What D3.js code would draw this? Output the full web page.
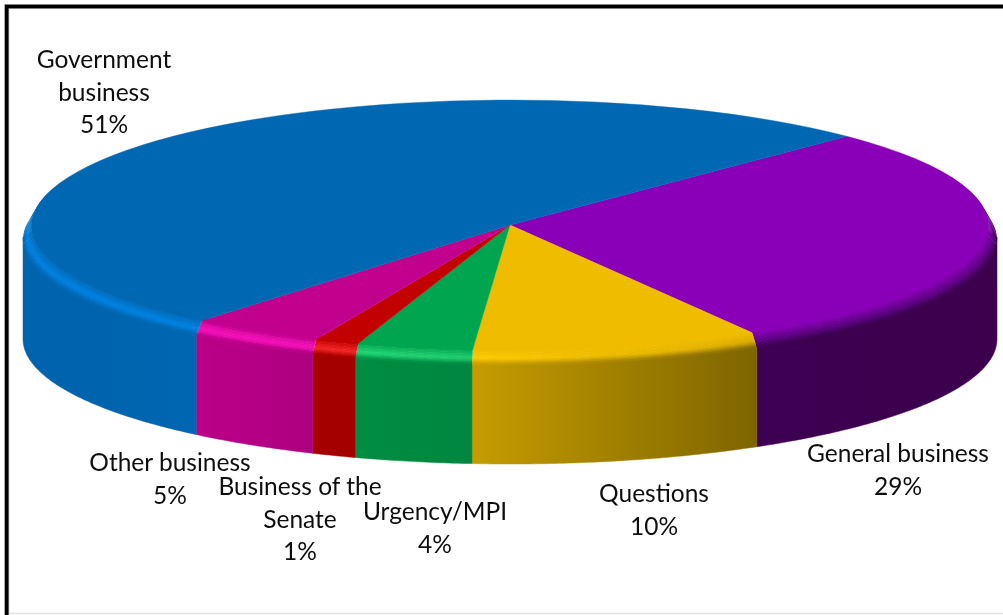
<!DOCTYPE html>
<html>
<head>
<meta charset="utf-8">
<title>Business of the House</title>
<script src="https://cdnjs.cloudflare.com/ajax/libs/d3/7.8.5/d3.min.js"></script>
<style>
    html, body { margin: 0; padding: 0; background: #fff; overflow: hidden; }
    svg { display: block; }
    .label { font-family: Lato, "Open Sans", sans-serif; font-size: 24.5px; fill: #111; text-anchor: middle; }
</style>
</head>
<body>
<svg id="chart" width="1003" height="615"></svg>
<script>
// slices clockwise, starting at the government/general split
const categories = ['General business', 'Questions', 'Urgency/MPI', 'Business of the Senate', 'Other business', 'Government business'];
// share of the circle
const shares = [29.1, 9.7, 3.9, 1.5, 4.5, 51.3];
// what the labels print
const printedPct = ['29%', '10%', '4%', '1%', '5%', '51%'];
const labelLines = [
    ['General business'],
    ['Questions'],
    ['Urgency/MPI'],
    ['Business of the', 'Senate'],
    ['Other business'],
    ['Government', 'business']
];

// colours: top face, rim highlight (left, right end), side wall (left, right end)
const sliceStyles = [
    { top: '#8a00b8', hi: ['#5f0085', '#5f0085'], side: ['#3e0052', '#3c004e'] },
    { top: '#f0bc00', hi: ['#ffcc00', '#d8aa00'], side: ['#c69c00', '#7e6500'] },
    { top: '#00a550', hi: ['#22d878', '#22d070'], side: ['#008d42', '#00863f'] },
    { top: '#c20000', hi: ['#f52525', '#f52525'], side: ['#a40000', '#a40000'] },
    { top: '#c2008e', hi: ['#f810bc', '#f810bc'], side: ['#ba0088', '#ae0080'] },
    { top: '#0068b3', hi: ['#0682e2', '#0682e2'], side: ['#0063ad', '#0066b1'] }
];

// label anchor (centre x, first baseline y) and line spacing
const labelAt = [[898, 462], [654, 502], [435, 520], [300, 495], [170, 471], [104, 68]];
const lineGap = 32.5;

const cx = 510, topY = 225, topRx = 478, topRy = 125;
const rimY = 240, rimRx = 487, rimRy = 125;
const depth = 99;
const startAngle = 44.8 * Math.PI / 180;
const rimSteps = 10;
const rimOver = 0.3; // rim runs a bit past the widest point, behind the top face

const svg = d3.select('#chart');
const defs = svg.append('defs');
defs.append('filter').attr('id', 'soft')
    .attr('x', '-2%').attr('y', '-2%').attr('width', '104%').attr('height', '104%')
    .append('feGaussianBlur').attr('stdDeviation', 0.6);
defs.append('filter').attr('id', 'softText')
    .attr('x', '-5%').attr('y', '-5%').attr('width', '110%').attr('height', '110%')
    .append('feGaussianBlur').attr('stdDeviation', 0.3);

const pie = d3.pie().sort(null).value(d => d)
    .startAngle(startAngle).endAngle(startAngle + 2 * Math.PI);
const arcs = pie(shares);

const mix = (a, b, t) => d3.interpolateRgb(a, b)(t);
const lerp = (a, b, t) => a + (b - a) * t;

// colour across the rim: top face -> highlight -> side wall
function rimColor(style, end, t) {
    if (t < 0.6) return mix(style.top, style.hi[end], t / 0.6);
    return mix(style.hi[end], style.side[end], (t - 0.6) / 0.4);
}

function anglesBetween(a0, a1) {
    const n = Math.max(2, Math.ceil((a1 - a0) / 0.01));
    return d3.range(n + 1).map(i => a0 + (a1 - a0) * i / n);
}

function gradient(id, x0, x1, c0, c1) {
    const g = defs.append('linearGradient').attr('id', id)
        .attr('gradientUnits', 'userSpaceOnUse')
        .attr('x1', x0).attr('x2', x1).attr('y1', 0).attr('y2', 0);
    g.append('stop').attr('offset', 0).attr('stop-color', c0);
    g.append('stop').attr('offset', 1).attr('stop-color', c1);
    return `url(#${id})`;
}

const pieG = svg.append('g').attr('filter', 'url(#soft)');

// side walls, front half only
arcs.forEach((d, i) => {
    const a0 = Math.max(d.startAngle, Math.PI / 2);
    const a1 = Math.min(d.endAngle, 3 * Math.PI / 2);
    if (a1 <= a0) return;

    const angles = anglesBetween(a0, a1);
    const xs = angles.map(a => cx + rimRx * Math.sin(a));
    const fill = gradient(`side${i}`, d3.min(xs), d3.max(xs), sliceStyles[i].side[0], sliceStyles[i].side[1]);

    // wall starts a little high so the rim strips sit on colour, not on white
    const wall = d3.area()
        .x(a => cx + rimRx * Math.sin(a))
        .y0(a => rimY - rimRy * Math.cos(a) - 3)
        .y1(a => rimY - rimRy * Math.cos(a) + depth);

    pieG.append('path')
        .attr('d', wall(angles))
        .attr('fill', fill)
        .attr('stroke', fill)
        .attr('stroke-width', 0.5);
});

// bevel between top face and wall, built from thin strips
arcs.forEach((d, i) => {
    const a0 = Math.max(d.startAngle, Math.PI / 2 - rimOver);
    const a1 = Math.min(d.endAngle, 3 * Math.PI / 2 + rimOver);
    if (a1 <= a0) return;
    const angles = anglesBetween(a0, a1);
    const xs = angles.map(a => cx + rimRx * Math.sin(a));
    const x0 = d3.min(xs), x1 = d3.max(xs);
    const px = (a, t) => cx + lerp(topRx, rimRx, t) * Math.sin(a);
    const py = (a, t) => lerp(topY, rimY, t) - lerp(topRy, rimRy, t) * Math.cos(a);
    // just inside the top face edge, to hide the seam under it
    const tucked = a => [cx + (topRx - 4) * Math.sin(a), topY - (topRy - 4) * Math.cos(a)];

    d3.range(rimSteps).forEach(k => {
        const t0 = (k - 0.4) / rimSteps, t1 = (k + 1) / rimSteps;
        const tc = (k + 0.5) / rimSteps;
        const strip = d3.line().x(p => p[0]).y(p => p[1]);
        const pts = angles.map(a => k === 0 ? tucked(a) : [px(a, t0), py(a, t0)])
            .concat(angles.slice().reverse().map(a => [px(a, t1), py(a, t1)]));
        const fill = gradient(`rim${i}_${k}`, x0, x1, rimColor(sliceStyles[i], 0, tc), rimColor(sliceStyles[i], 1, tc));
        pieG.append('path')
            .attr('d', strip(pts) + 'Z')
            .attr('fill', fill);
    });
});

// flat top face
const unitArc = d3.arc().innerRadius(0).outerRadius(1000);
pieG.append('g')
    .attr('transform', `translate(${cx},${topY}) scale(${topRx / 1000},${topRy / 1000})`)
    .selectAll('path')
    .data(arcs)
    .join('path')
    .attr('d', unitArc)
    .attr('fill', (d, i) => sliceStyles[i].top)
    .attr('stroke', (d, i) => sliceStyles[i].top)
    .attr('stroke-width', 0.4)
    .attr('vector-effect', 'non-scaling-stroke');

// labels
const labels = svg.append('g').attr('filter', 'url(#softText)');
categories.forEach((c, i) => {
    const lines = labelLines[i].concat(printedPct[i]);
    const [lx, ly] = labelAt[i];
    labels.append('text')
        .attr('class', 'label')
        .selectAll('tspan')
        .data(lines)
        .join('tspan')
        .attr('x', lx)
        .attr('y', (d, j) => ly + j * lineGap)
        .text(d => d);
});

// picture frame: left and top edges only, faint line at the bottom
svg.append('path')
    .attr('d', 'M9,613.5H1003')
    .attr('fill', 'none')
    .attr('stroke', '#e4e4e4')
    .attr('stroke-width', 1.5);
svg.append('path')
    .attr('d', 'M6.7,615V6.5H1003')
    .attr('fill', 'none')
    .attr('stroke', '#aaa')
    .attr('stroke-width', 5);
svg.append('path')
    .attr('d', 'M6.7,615V6.5H1003')
    .attr('fill', 'none')
    .attr('stroke', '#000')
    .attr('stroke-width', 3.6);
</script>
</body>
</html>
